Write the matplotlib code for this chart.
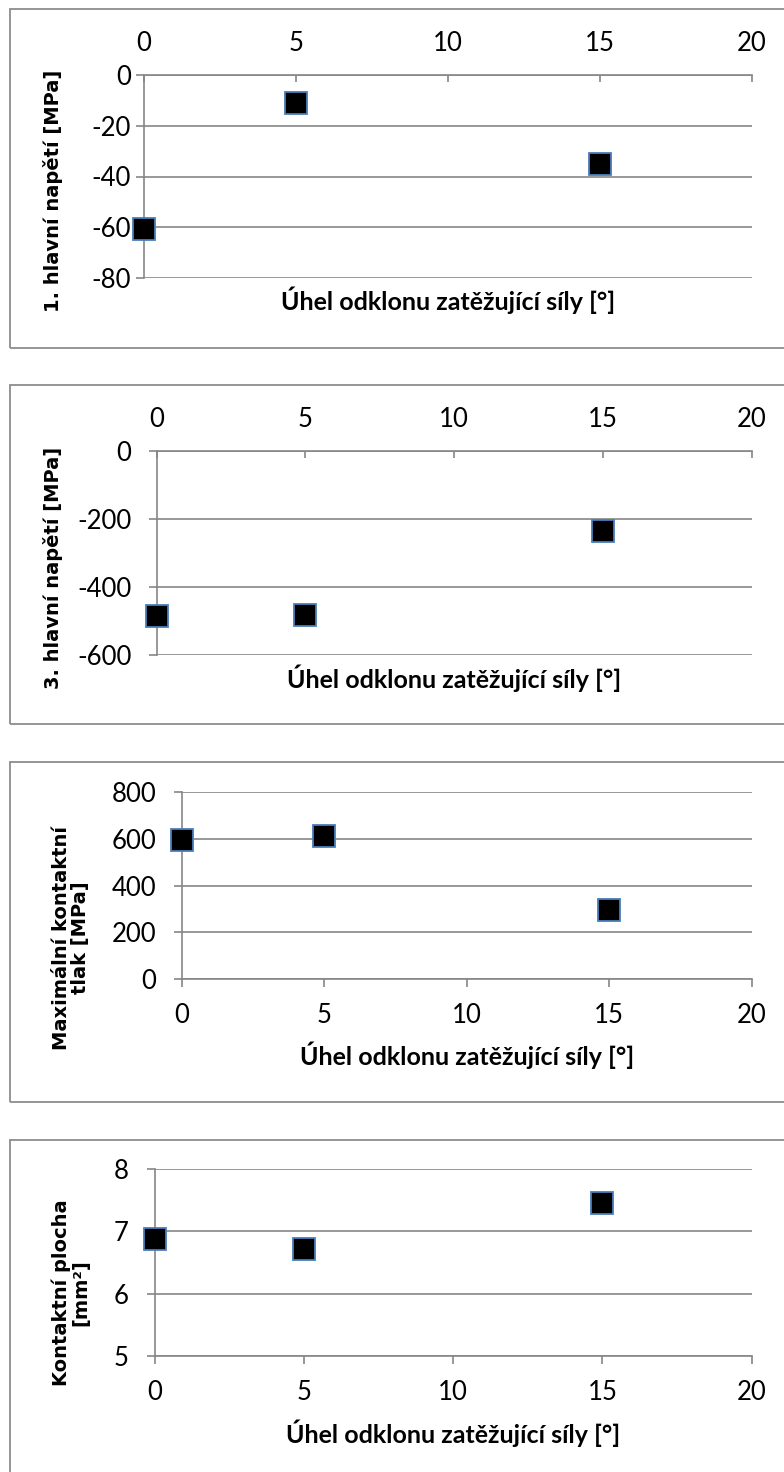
import matplotlib
matplotlib.use("Agg")
import matplotlib.pyplot as plt
from matplotlib.patches import Rectangle

plt.rcParams["axes.unicode_minus"] = False

# Angle of the loading force deviation [deg]
angles = [0, 5, 15]

# 1st principal stress [MPa]
stress_1 = [-60.5, -11, -35]
# 3rd principal stress [MPa]
stress_3 = [-484, -483, -235]
# Maximum contact pressure [MPa]
contact_pressure = [596, 610, 297]
# Contact area [mm^2]
contact_area = [6.87, 6.71, 7.45]

x_ticks = [0, 5, 10, 15, 20]
x_label = "Úhel odklonu zatěžující síly [°]"

W, H = 784, 1472
DPI = 100
GRID = "#868686"
MARKER_EDGE = "#4A7EBB"
TICK_FS = 18.5

fig = plt.figure(figsize=(W / DPI, H / DPI), dpi=DPI)
fig.patch.set_facecolor("white")


def frame(top, bottom):
    """Grey chart-area frame in pixel coordinates (y measured from the top)."""
    left, right = 9.5, 800
    fig.patches.append(Rectangle((left / W, 1 - bottom / H), (right - left) / W,
                                 (bottom - top) / H, transform=fig.transFigure,
                                 fill=False, edgecolor="#8c8c8c", linewidth=1.3))


def panel(box, y, ylim, yticks, ylabel, ylab_xy, xlab_xy, xaxis_top, ytick_pad,
          xtick_pad):
    l, t, r, b = box
    ax = fig.add_axes([l / W, 1 - b / H, (r - l) / W, (b - t) / H])
    ax.set_xlim(0, 20)
    ax.set_ylim(*ylim)
    ax.set_xticks(x_ticks)
    ax.set_yticks(yticks)

    ax.yaxis.grid(True, color=GRID, linewidth=1.2)
    ax.set_axisbelow(True)
    for side in ("left", "right", "top", "bottom"):
        ax.spines[side].set_visible(False)
    ax.spines["left"].set_visible(True)
    ax.spines["left"].set_color(GRID)
    ax.spines["left"].set_linewidth(1.2)
    axis_side = "top" if xaxis_top else "bottom"
    ax.spines[axis_side].set_visible(True)
    ax.spines[axis_side].set_color(GRID)
    ax.spines[axis_side].set_linewidth(1.2)

    ax.tick_params(axis="y", direction="out", length=6, width=1.2, color=GRID,
                   labelsize=TICK_FS, pad=ytick_pad, labelcolor="black")
    if xaxis_top:
        ax.xaxis.tick_top()
        ax.tick_params(axis="x", direction="in", length=5, width=1.2, color=GRID,
                       labelsize=TICK_FS, pad=xtick_pad, labelcolor="black")
    else:
        ax.tick_params(axis="x", direction="out", length=6, width=1.2, color=GRID,
                       labelsize=TICK_FS, pad=xtick_pad, labelcolor="black")
    for lab in ax.get_xticklabels() + ax.get_yticklabels():
        lab.set_fontfamily("Lato")

    ax.plot(angles, y, linestyle="none", marker="s", markersize=15.5,
            markerfacecolor="black", markeredgecolor=MARKER_EDGE,
            markeredgewidth=1.3, clip_on=False, zorder=5)

    ax.xaxis.set_label_position("bottom")
    ax.set_xlabel(x_label, fontfamily="Lato", fontweight="bold", fontsize=18)
    ax.xaxis.label.set_va("center")
    ax.xaxis.label.set_ha("center")
    ax.xaxis.set_label_coords((xlab_xy[0] - l) / (r - l), (b - xlab_xy[1]) / (b - t))

    ax.set_ylabel(ylabel, fontfamily="DejaVu Sans", fontweight="bold", fontsize=14,
                  linespacing=1.0)
    ax.yaxis.label.set_va("center")
    ax.yaxis.label.set_ha("center")
    ax.yaxis.set_label_coords((ylab_xy[0] - l) / (r - l), (b - ylab_xy[1]) / (b - t))
    return ax


frame(8.5, 347.5)
panel((144, 75, 751.5, 278), stress_1, (-80, 0), [-80, -60, -40, -20, 0],
      "1. hlavní napětí [MPa]", (53, 191), (448, 300), True, 3.5, 14)

frame(385, 724)
panel((156.5, 451, 751.5, 655), stress_3, (-600, 0), [-600, -400, -200, 0],
      "3. hlavní napětí [MPa]", (53, 568), (454, 678), True, 12, 14)

frame(762, 1102)
panel((181.5, 792, 751.5, 979), contact_pressure, (0, 800), [0, 200, 400, 600, 800],
      "Maximální kontaktní\ntlak [MPa]", (71, 938), (467, 1055), False, 12, 11)

frame(1140, 1500)
panel((155, 1169, 751.5, 1356), contact_area, (5, 8), [5, 6, 7, 8],
      "Kontaktní plocha\n[mm²]", (71, 1293), (453, 1433), False, 13, 11)

fig.savefig("out.png", dpi=DPI, facecolor="white")
